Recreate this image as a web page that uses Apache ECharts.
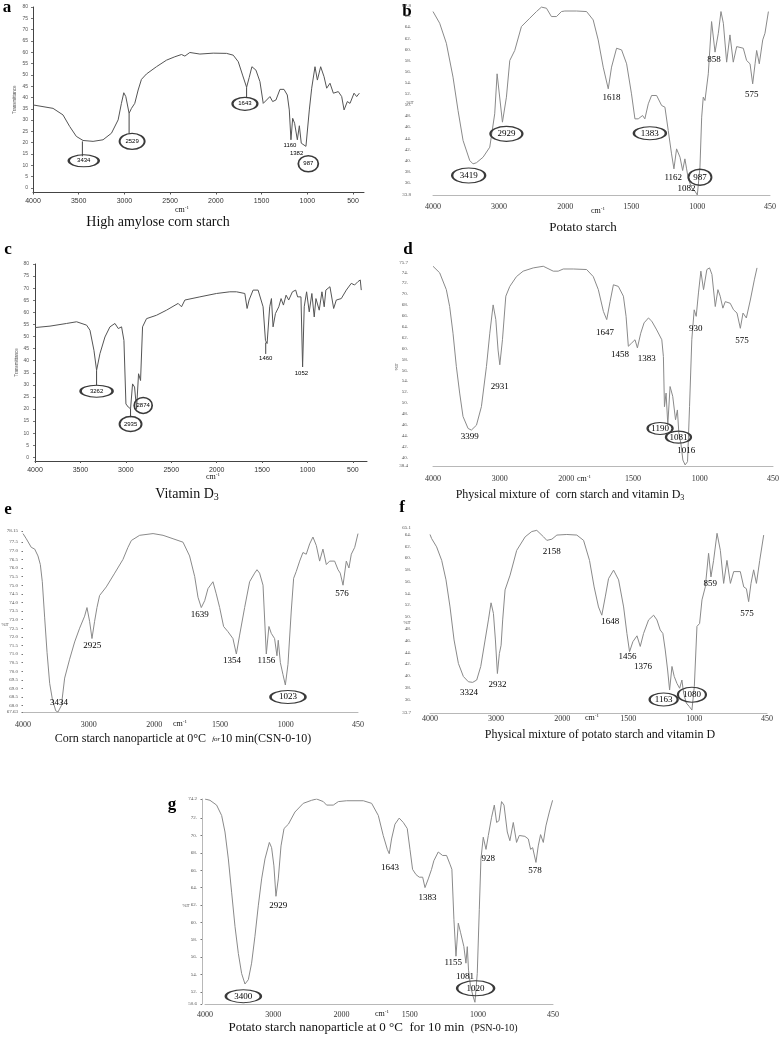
<!DOCTYPE html>
<html><head><meta charset="utf-8">
<script src="https://cdn.jsdelivr.net/npm/echarts@6/dist/echarts.min.js"></script>
<style>html,body{margin:0;padding:0;background:#fff}#c{width:783px;height:1039px}</style>
</head><body><div id="c"></div>
<script>
// ---------- DATA: spectra as [wavenumber cm-1, transmittance] ----------
const specA = [[4000,36.7],[3781,35.2],[3672,32.3],[3599,27.2],[3526,22.8],[3453,21.0],[3343,20.6],[3234,21.3],[3142,24.2],[3069,30.1],[3033,37.4],[3007,42.1],[2985,40.4],[2949,33.0],[2923,35.2],[2887,37.4],[2850,43.3],[2814,48.0],[2759,50.4],[2650,53.6],[2540,56.5],[2449,58.0],[2376,59.0],[2339,58.3],[2285,59.9],[2175,59.2],[2029,59.6],[1883,59.5],[1810,58.7],[1755,55.8],[1708,49.9],[1664,44.5],[1635,48.9],[1606,53.6],[1562,52.1],[1518,47.0],[1482,37.4],[1445,38.9],[1409,40.4],[1379,38.2],[1343,38.9],[1299,43.6],[1255,43.6],[1219,41.1],[1197,34.5],[1179,21.3],[1160,30.8],[1139,28.6],[1109,21.3],[1087,27.5],[1066,19.8],[1015,18.4],[1000,17.6],[978,34.5],[952,44.1],[916,53.6],[890,47.7],[854,53.6],[817,49.2],[788,44.1],[752,46.3],[715,41.9],[661,42.6],[624,40.4],[598,34.5],[562,38.2],[533,37.4],[489,41.9],[460,40.4],[431,41.9]];
const specB = [[4000,66.8],[3899,64.7],[3798,61.1],[3697,55.0],[3621,49.0],[3545,43.6],[3444,40.0],[3394,39.4],[3343,39.6],[3242,40.6],[3141,42.4],[3066,48.4],[3030,55.6],[2949,46.9],[2889,51.4],[2838,58.0],[2763,59.8],[2662,64.1],[2536,65.6],[2434,66.8],[2359,67.6],[2283,67.4],[2208,65.9],[2131,65.9],[2056,66.8],[2005,66.9],[1914,66.9],[1838,66.8],[1788,65.3],[1750,61.7],[1712,56.8],[1674,52.9],[1649,56.8],[1611,60.2],[1573,59.9],[1535,57.4],[1498,52.0],[1472,47.5],[1447,47.5],[1414,48.1],[1397,47.5],[1371,50.2],[1346,51.7],[1308,51.7],[1270,49.9],[1245,49.6],[1220,45.4],[1195,41.2],[1177,38.5],[1157,42.1],[1131,40.6],[1111,38.2],[1094,40.3],[1081,38.5],[1068,36.7],[1043,35.1],[1018,34.5],[1000,33.8],[980,38.8],[967,47.8],[955,51.4],[942,50.8],[917,55.6],[892,65.0],[866,59.5],[841,62.9],[821,66.8],[803,64.7],[778,57.7],[753,62.6],[728,57.7],[702,60.5],[652,60.2],[627,58.0],[601,57.4],[581,53.8],[563,57.4],[551,59.8],[531,57.4],[505,61.7],[488,62.9],[462,66.8]];
const specC = [[4000,53.7],[3835,54.3],[3652,55.4],[3542,56.1],[3432,54.7],[3395,52.6],[3351,44.3],[3322,36.0],[3285,42.9],[3230,49.8],[3175,54.0],[3120,55.4],[3083,53.3],[3047,54.0],[3021,48.4],[2999,22.1],[2973,20.8],[2948,20.1],[2926,30.4],[2904,29.1],[2882,20.1],[2860,34.6],[2838,31.8],[2816,54.0],[2772,57.4],[2662,58.8],[2552,60.9],[2424,63.7],[2387,62.3],[2350,65.1],[2185,66.4],[2002,67.8],[1855,68.5],[1782,68.5],[1690,67.8],[1665,61.6],[1643,65.1],[1599,69.2],[1544,69.2],[1489,62.3],[1463,48.4],[1445,47.1],[1416,62.3],[1397,65.7],[1379,54.0],[1353,59.5],[1316,62.3],[1291,65.7],[1265,63.0],[1236,67.1],[1207,65.1],[1166,68.5],[1130,69.2],[1109,66.4],[1072,66.4],[1054,37.4],[1036,62.3],[1010,68.5],[981,60.2],[952,67.8],[926,58.1],[907,65.7],[871,60.9],[841,68.5],[816,62.3],[798,69.2],[753,70.6],[731,69.9],[712,61.6],[683,65.1],[628,65.7],[573,69.2],[518,72.0],[482,71.3],[445,72.7],[419,73.4],[408,69.2]];
const specD = [[4000,75.1],[3900,73.9],[3800,70.8],[3750,67.7],[3700,62.8],[3650,56.7],[3600,51.8],[3550,47.5],[3474,45.3],[3424,45.0],[3348,45.9],[3274,49.3],[3198,56.7],[3148,62.8],[3098,68.0],[3058,65.3],[3024,59.7],[2998,57.0],[2958,61.6],[2908,69.6],[2848,71.4],[2748,73.2],[2648,74.2],[2496,74.8],[2346,75.1],[2196,74.2],[2122,74.2],[2046,74.6],[1948,74.6],[1848,74.5],[1798,73.2],[1760,70.8],[1722,66.8],[1697,65.3],[1672,68.6],[1647,71.7],[1610,71.4],[1572,69.6],[1552,65.9],[1535,60.4],[1510,61.0],[1485,61.6],[1467,60.1],[1442,62.8],[1417,64.7],[1384,65.6],[1359,65.0],[1322,63.4],[1284,61.6],[1272,58.5],[1264,49.3],[1252,51.8],[1239,46.0],[1222,53.0],[1202,51.2],[1181,46.9],[1167,48.7],[1156,44.4],[1141,42.6],[1126,39.5],[1109,38.6],[1091,39.2],[1076,49.3],[1059,61.6],[1041,67.1],[1026,65.9],[1009,70.2],[991,74.2],[971,70.8],[946,74.5],[926,74.8],[908,73.6],[883,67.7],[863,70.8],[846,69.6],[826,67.4],[808,68.6],[771,68.3],[746,67.1],[720,66.5],[695,63.7],[675,66.5],[650,65.6],[620,68.9],[590,72.6],[570,74.8]];
const specE = [[4000,78.0],[3950,77.7],[3874,77.2],[3822,77.1],[3772,76.7],[3736,76.2],[3706,75.2],[3670,73.1],[3634,71.1],[3594,69.3],[3554,68.4],[3502,67.7],[3468,67.63],[3416,68.0],[3366,69.6],[3290,70.7],[3214,71.7],[3138,72.5],[3062,73.2],[3026,73.7],[2986,72.9],[2950,71.9],[2910,72.9],[2874,73.7],[2834,74.4],[2732,74.9],[2604,75.7],[2478,76.5],[2402,77.2],[2350,77.6],[2224,77.9],[2020,78.0],[1934,77.9],[1858,77.7],[1782,77.5],[1732,76.7],[1693,75.5],[1668,74.3],[1643,73.7],[1617,74.1],[1592,74.8],[1554,75.2],[1529,74.5],[1503,73.7],[1473,72.6],[1440,72.3],[1402,71.9],[1376,71.0],[1351,72.1],[1313,73.7],[1275,75.2],[1237,75.7],[1219,75.9],[1199,75.7],[1173,75.0],[1148,71.0],[1128,72.6],[1110,72.2],[1085,71.9],[1067,70.9],[1057,71.8],[1041,70.5],[1021,69.8],[1003,69.2],[983,70.4],[958,73.5],[940,75.4],[920,75.8],[894,76.4],[869,76.9],[844,76.8],[818,77.4],[793,77.8],[767,77.3],[742,76.4],[717,77.1],[691,76.2],[666,76.4],[628,76.4],[602,75.9],[585,75.7],[564,75.0],[539,76.4],[519,76.0],[501,76.8],[475,77.2],[450,78.0]];
const specF = [[4000,64.0],[3975,63.3],[3900,61.9],[3823,59.6],[3758,56.3],[3697,51.7],[3636,46.1],[3570,42.1],[3495,39.9],[3419,39.0],[3354,38.9],[3293,39.3],[3232,41.6],[3166,46.1],[3116,49.5],[3076,52.4],[3040,50.6],[3010,46.1],[2980,40.4],[2950,43.8],[2924,45.2],[2900,49.5],[2864,54.6],[2788,57.1],[2688,61.3],[2560,63.6],[2460,64.5],[2384,64.7],[2282,63.6],[2232,63.0],[2156,63.2],[2080,63.9],[1965,64.0],[1889,63.9],[1838,63.0],[1793,59.6],[1758,55.1],[1725,51.7],[1700,50.3],[1674,53.4],[1649,56.5],[1611,57.95],[1573,56.3],[1535,51.7],[1510,47.2],[1490,44.1],[1465,45.8],[1434,46.8],[1409,45.0],[1384,47.2],[1346,49.5],[1308,50.3],[1283,49.5],[1258,47.8],[1238,47.2],[1220,44.4],[1202,41.0],[1187,37.6],[1169,41.6],[1152,39.9],[1131,38.7],[1111,37.9],[1094,39.3],[1081,37.1],[1061,35.4],[1038,34.8],[1018,34.2],[1000,38.2],[980,48.4],[960,48.9],[942,52.9],[917,55.1],[892,60.8],[874,56.8],[854,59.6],[828,64.2],[803,61.3],[778,55.7],[753,59.6],[727,55.7],[702,57.7],[652,57.7],[626,55.1],[606,54.8],[589,52.6],[571,55.7],[551,58.0],[530,55.7],[505,59.6],[475,63.9]];
const specG = [[4000,74.2],[3927,74.05],[3830,73.5],[3756,72.3],[3707,70.4],[3658,67.3],[3609,63.4],[3560,59.5],[3511,56.4],[3463,54.1],[3414,52.9],[3365,53.4],[3317,55.3],[3268,58.4],[3219,61.9],[3170,65.0],[3121,67.3],[3057,69.2],[3024,68.6],[2990,66.5],[2960,63.0],[2926,65.0],[2886,68.8],[2842,70.8],[2778,71.3],[2682,72.7],[2560,73.7],[2438,74.05],[2364,74.2],[2266,73.9],[2218,73.5],[2120,73.5],[2046,73.9],[1962,74.0],[1840,74.0],[1779,73.7],[1730,72.3],[1694,70.0],[1664,68.4],[1650,67.9],[1633,69.6],[1608,71.3],[1577,72.0],[1547,71.5],[1518,70.8],[1498,68.4],[1479,66.1],[1454,65.5],[1430,65.2],[1405,65.2],[1388,64.0],[1364,65.0],[1340,66.1],[1323,67.1],[1291,68.1],[1259,67.7],[1230,67.7],[1205,66.7],[1191,66.1],[1176,60.3],[1161,56.1],[1144,59.9],[1127,58.8],[1103,57.2],[1088,55.3],[1078,57.2],[1069,54.5],[1054,52.6],[1034,51.4],[1022,50.8],[1005,54.1],[990,61.5],[978,67.3],[961,69.8],[941,68.4],[924,70.0],[900,72.1],[880,73.5],[863,71.5],[846,71.7],[827,73.9],[809,73.5],[785,70.4],[766,69.4],[741,71.5],[717,69.2],[697,70.0],[656,69.9],[631,69.6],[614,68.4],[599,68.6],[575,66.9],[558,68.8],[541,70.1],[521,69.2],[502,71.1],[477,72.7],[453,74.05]];

// ---------- DATA: peak annotations [text, wavenumber, transmittance, kind] ----------
const annA = [['3434',3445,12.0,'oval'],['2529',2916,20.6,'oval'],['1643',1682,37.2,'oval'],['1160',1190,18.8,'text'],['1382',1117,15.1,'text'],['987',989,10.7,'oval']];
const annB = [['3419',3460,37.3,'oval'],['2929',2889,44.8,'oval'],['1618',1649,51.4,'text'],['1383',1359,44.9,'oval'],['1162',1182,37.0,'text'],['1082',1081,35.0,'text'],['987',980,37.0,'oval'],['858',874,58.2,'text'],['575',589,51.9,'text']];
const annC = [['3262',3322,27.4,'oval'],['2935',2948,13.8,'oval'],['2874',2809,21.5,'oval'],['1460',1460,40.8,'text'],['1052',1067,34.6,'text']];
const annD = [['3399',3449,43.8,'text'],['2931',2998,53.0,'text'],['1647',1710,62.9,'text'],['1458',1597,58.8,'text'],['1383',1397,58.1,'text'],['1190',1297,45.3,'oval'],['1081',1159,43.7,'oval'],['1016',1101,41.2,'text'],['930',1029,63.7,'text'],['575',683,61.5,'text']];
const annE = [['3434',3452,68.2,'text'],['2925',2944,71.5,'text'],['1639',1655,73.3,'text'],['1354',1409,70.6,'text'],['1156',1148,70.6,'text'],['1023',983,68.5,'oval'],['576',572,74.5,'text']];
const annF = [['3324',3410,37.2,'text'],['2932',2980,38.5,'text'],['2158',2156,61.1,'text'],['1648',1636,49.2,'text'],['1456',1505,43.2,'text'],['1376',1389,41.6,'text'],['1163',1232,36.0,'oval'],['1080',1018,36.8,'oval'],['859',879,55.6,'text'],['575',601,50.6,'text']];
const annG = [['3400',3438,51.5,'oval'],['2929',2926,61.9,'text'],['1643',1645,66.3,'text'],['1383',1369,62.9,'text'],['1155',1181,55.4,'text'],['1081',1095,53.7,'text'],['1020',1017,52.4,'oval'],['928',924,67.3,'text'],['578',582,65.9,'text']];
// leader lines [wavenumber, from, to]
const connA = [[3460,20.6,14.0],[2949,33.0,24.0],[1664,44.5,40.0]];
const connC = [[3322,36.0,29.8],[2948,20.1,16.6],[1460,47.5,42.8]];

// ---------- DATA: tick labels ----------
const xTicksLin = [4000,3500,3000,2500,2000,1500,1000,500];
const xTicksSplit = [4000,3000,2000,1500,1000,450];
const yTicksAC = [0,5,10,15,20,25,30,35,40,45,50,55,60,65,70,75,80];
const yTicksB = [33.8,36,38,40,42,44,46,48,50,52,54,56,58,60,62,64,66,67.8];
const yTicksD = [38.4,40,42,44,46,48,50,52,54,56,58,60,62,64,66,68,70,72,74,75.7];
const yTicksE = [67.63,68,68.5,69,69.5,70,70.5,71,71.5,72,72.5,73,73.5,74,74.5,75,75.5,76,76.5,77,77.5,78.15];
const yTicksF = [33.7,36,38,40,42,44,46,48,50,52,54,56,58,60,62,64,65.1];
const yTicksG = [50.6,52,54,56,58,60,62,64,66,68,70,72,74.2];

// ---------- styles / layout ----------
const SERIF = '"Liberation Serif","Times New Roman",serif';
const SANS = '"Liberation Sans",Arial,sans-serif';
// split wavenumber scale: 4000-2000 compressed 2x relative to 2000-450
const tx = w => w >= 2000 ? (4000 - w) / 2 : 1000 + (2000 - w);
const invTx = p => p <= 1000 ? 4000 - 2 * p : 2000 - (p - 1000);
const dotFmt = v => Number.isInteger(v) ? v + '.' : String(v);
const ovalSize = {
  a3434:[30,12], a2529:[25,16], a1643:[25,13], a987:[20,16],
  b3419:[33,15], b2929:[32,15], b1383:[32,13], b987:[23,16],
  c3262:[32,12], c2935:[22,15], c2874:[18,16],
  d1190:[25,12], d1081:[25,12],
  e1023:[35,13],
  f1163:[28,13], f1080:[28,15],
  g3400:[35,13], g1020:[37,15]
};

const panels = [
  {key:'a', kind:'lin', grid:{left:33,top:7,width:331,height:185.5}, xMin:380, yMin:-2, yMax:80, yTicks:yTicksAC, yFmt:String, spec:specA, ann:annA, conn:connA, xMargin:5, yMargin:5, yName:'Transmittance', yTick:true},
  {key:'b', kind:'split', grid:{left:433,top:6,width:337,height:189}, yMin:33.8, yMax:67.8, yTicks:yTicksB, yFmt:dotFmt, spec:specB, ann:annB, conn:[], xMargin:8, yMargin:22},
  {key:'c', kind:'lin', grid:{left:35,top:264,width:332,height:197}, xMin:345, yMin:-1.5, yMax:80, yTicks:yTicksAC, yFmt:String, spec:specC, ann:annC, conn:connC, xMargin:6, yMargin:6, yName:'Transmittance', yTick:true},
  {key:'d', kind:'split', grid:{left:433,top:263,width:340,height:203}, yMin:38.4, yMax:75.7, yTicks:yTicksD, yFmt:dotFmt, spec:specD, ann:annD, conn:[], xMargin:9, yMargin:25},
  {key:'e', kind:'split', grid:{left:23,top:531,width:335,height:181}, yMin:67.63, yMax:78.15, yTicks:yTicksE, yFmt:v => (v===78.15||v===67.63) ? String(v) : v.toFixed(1), spec:specE, ann:annE, conn:[], xMargin:9, yMargin:5, yTick:true},
  {key:'f', kind:'split', grid:{left:430,top:528,width:337,height:185}, yMin:33.7, yMax:65.1, yTicks:yTicksF, yFmt:dotFmt, spec:specF, ann:annF, conn:[], xMargin:2, yMargin:19},
  {key:'g', kind:'split', grid:{left:205,top:799,width:348,height:205}, yMin:50.6, yMax:74.2, yTicks:yTicksG, yFmt:dotFmt, spec:specG, ann:annG, conn:[], xMargin:7, yMargin:5, yLine:true, yOffset:3, yTick:true}
];

const grids = [], xAxes = [], yAxes = [], series = [];
panels.forEach((P, i) => {
  const split = P.kind === 'split';
  const X = split ? tx : (w => w);
  grids.push(Object.assign({containLabel:false, outerBoundsMode:'none'}, P.grid));
  const xVals = split ? xTicksSplit.map(tx) : xTicksLin;
  xAxes.push({
    type:'value', gridIndex:i, min: split ? 0 : P.xMin, max: split ? 2550 : 4000, inverse: !split,
    splitLine:{show:false},
    axisLine:{show:true, onZero:false, lineStyle:{color: split ? '#b8b8b8' : '#444', width:1}},
    axisTick:{show:!split, customValues:xVals, length:2, lineStyle:{color:'#555'}},
    axisLabel:{customValues:xVals, formatter: v => split ? String(Math.round(invTx(v))) : String(v),
      fontFamily: split ? SERIF : SANS, fontSize: split ? 8 : 7, color:'#333', margin:P.xMargin}
  });
  const lin = !split;
  yAxes.push({
    type:'value', gridIndex:i, min:P.yMin, max:P.yMax, offset:P.yOffset || 0,
    splitLine:{show:false},
    axisLine:{show: lin || !!P.yLine, onZero:false, lineStyle:{color: lin ? '#444' : '#b8b8b8', width:1}},
    axisTick:{show:!!P.yTick, customValues:P.yTicks, length: lin ? 2 : 1.5, lineStyle:{color:'#777'}},
    axisLabel:{customValues:P.yTicks, formatter:P.yFmt, fontFamily: lin ? SANS : SERIF, fontSize:5, color:'#555', margin:P.yMargin},
    name:P.yName || '', nameLocation:'middle', nameRotate:90, nameGap:16,
    nameTextStyle:{fontFamily:SANS, fontSize:4.5, color:'#555'}
  });
  series.push({
    type:'line', xAxisIndex:i, yAxisIndex:i, data:P.spec.map(([w, v]) => [X(w), v]),
    showSymbol:false, symbol:'none', silent:true, clip:true,
    lineStyle:{color: lin ? '#555' : '#8a8a8a', width:1}
  });
  P.conn.forEach(([w, a, b]) => series.push({
    type:'line', xAxisIndex:i, yAxisIndex:i, data:[[X(w), a], [X(w), b]],
    showSymbol:false, symbol:'none', silent:true, lineStyle:{color:'#444', width:1}
  }));
  series.push({
    type:'scatter', xAxisIndex:i, yAxisIndex:i, silent:true, z:5, clip:false,
    itemStyle:{opacity:1},
    data:P.ann.map(([t, w, v, kind]) => {
      const oval = kind === 'oval';
      return {
        value:[X(w), v], symbol:'circle',
        symbolSize: oval ? ovalSize[P.key + t] : 1,
        itemStyle: oval ? {color:'rgba(0,0,0,0)', borderColor:'#3a3a3a', borderWidth:1.6, opacity:1} : {color:'rgba(0,0,0,0)', opacity:1},
        label:{show:true, position:'inside', formatter:t,
          fontFamily: lin ? SANS : SERIF, fontSize: lin ? 6 : 9, color:'#000', textBorderWidth:0}
      };
    })
  });
});

// ---------- texts ----------
const graphic = [];
const txt = (x, y, text, size, opts) => {
  opts = opts || {};
  const fam = opts.family || SERIF;
  graphic.push({type:'text', x, y, rotation: opts.rot || 0, silent:true, style:{
    text, fontSize:size, fontFamily:fam, fontWeight: opts.weight || 'normal', fill: opts.fill || '#111',
    align:'center', verticalAlign:'middle',
    rich:{
      s:{fontSize: Math.round(size*0.68), fontFamily:fam, fill:'#111', padding:[Math.round(size*0.45),0,0,0]},
      u:{fontSize: Math.round(size*0.68), fontFamily:fam, fill:'#111', padding:[0,0,Math.round(size*0.45),0]},
      f:{fontSize: Math.round(size*0.62), fontFamily:fam, fontStyle:'italic', fill:'#111'},
      p:{fontSize: Math.round(size*0.8), fontFamily:fam, fill:'#111'}
    }
  }});
};
[['a',7,8],['b',407,12],['c',8,250],['d',408,250],['e',8,510],['f',402,508],['g',172,805]]
  .forEach(([t, x, y]) => txt(x, y, t, 17, {weight:'bold', fill:'#000'}));
txt(158, 222, 'High amylose corn starch', 14);
txt(583, 228, 'Potato starch', 13);
txt(187, 494, 'Vitamin D{s|3}', 14);
txt(570, 495, 'Physical mixture of  corn starch and vitamin D{s|3}', 12);
txt(183, 739, 'Corn starch nanoparticle at 0°C  {f|for}10 min(CSN-0-10)', 12);
txt(600, 735, 'Physical mixture of potato starch and vitamin D', 12);
txt(373, 1028, 'Potato starch nanoparticle at 0 °C  for 10 min  {p|(PSN-0-10)}', 13);
[[182,210],[598,211],[213,477],[584,479],[180,724],[592,718],[382,1014]]
  .forEach(([x, y]) => txt(x, y, 'cm{u|-1}', 8));
[[410,103,0],[397,367,Math.PI/2],[5,625,0],[407,623,0],[186,906,0]]
  .forEach(([x, y, r]) => txt(x, y, '%T', 5, {rot:r, fill:'#444'}));

const chart = echarts.init(document.getElementById('c'), null, {renderer:'canvas', width:783, height:1039});
chart.setOption({
  backgroundColor:'#ffffff', animation:false,
  grid:grids, xAxis:xAxes, yAxis:yAxes, series, graphic
});
</script></body></html>
